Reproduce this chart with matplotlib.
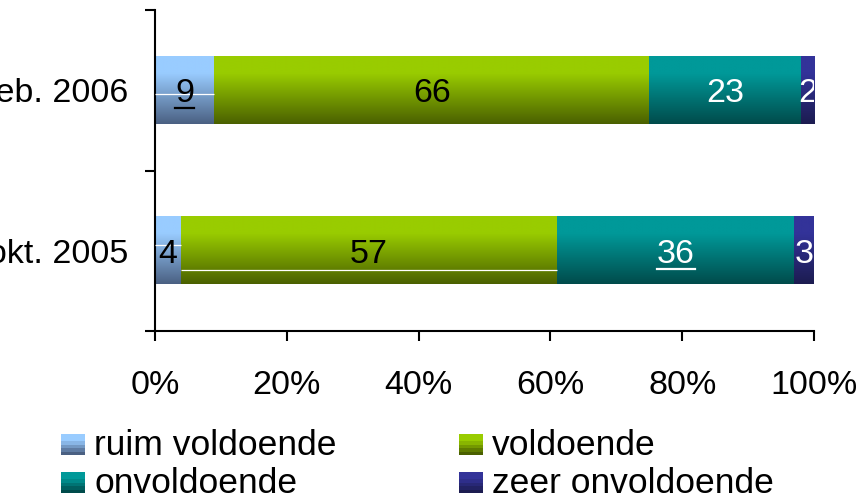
import numpy as np
import matplotlib
matplotlib.use('Agg')
import matplotlib.pyplot as plt
from matplotlib.colors import LinearSegmentedColormap
from matplotlib.lines import Line2D

# ---- data ----
categories = ['okt. 2005', 'feb. 2006']
series_names = ['ruim voldoende', 'voldoende', 'onvoldoende', 'zeer onvoldoende']
ruim = [4, 9]
voldoende = [57, 66]
onvoldoende = [36, 23]
zeer = [3, 2]
xticks = [0, 20, 40, 60, 80, 100]
xtick_labels = ['0%', '20%', '40%', '60%', '80%', '100%']

# ---- style ----
top_colors = ['#99CCFF', '#99CC00', '#009999', '#333399']
bottom_colors = ['#4A6082', '#4A6000', '#004B4B', '#1C1C50']
label_colors = ['black', 'black', 'white', 'white']
underlined = {(1, 0), (0, 2)}  # (category index, series index)
# rendering artefact lines in the original: (category, series, fraction from bottom)
artefacts = [(1, 0, 0.45), (0, 0, 0.59), (0, 1, 0.21)]

plt.rcParams['font.family'] = ['Liberation Sans', 'DejaVu Sans']

FS = 24.5
FS_LEG = 25.5

fig = plt.figure(figsize=(8.6, 4.96), dpi=100)
ax = fig.add_axes([155 / 860, 165 / 496, 659 / 860, 321 / 496])

values = [ruim, voldoende, onvoldoende, zeer]
y = np.arange(len(categories))
left = np.zeros(len(categories))
bar_h = 0.42
grad = np.linspace(0, 1, 256).reshape(-1, 1)
to_underline = []
for i, vals in enumerate(values):
    cmap = LinearSegmentedColormap.from_list(
        'g%d' % i, [(0, bottom_colors[i]), (0.75, top_colors[i]), (1, top_colors[i])])
    bars = ax.barh(y, vals, left=left, height=bar_h, color='none', edgecolor='none')
    for j, b in enumerate(bars):
        x0, y0 = b.get_x(), b.get_y()
        w, h = b.get_width(), b.get_height()
        ax.imshow(grad, extent=[x0, x0 + w, y0, y0 + h], origin='lower', cmap=cmap,
                  aspect='auto', interpolation='bilinear', zorder=2)
        t = ax.text(x0 + w / 2, y0 + h / 2, str(vals[j]), ha='center', va='center_baseline',
                    fontsize=FS, color=label_colors[i], zorder=4, clip_on=True)
        if (j, i) in underlined:
            to_underline.append((t, label_colors[i]))
        for (cj, si, f) in artefacts:
            if cj == j and si == i:
                ax.plot([x0, x0 + w], [y0 + f * h] * 2, color='white', lw=0.9,
                        zorder=3, solid_capstyle='butt')
    left += np.array(vals)

ax.set_xlim(0, 100)
ax.set_ylim(-0.5, len(categories) - 0.5)
ax.set_xticks(xticks)
ax.set_xticklabels(xtick_labels, fontsize=FS)
ax.set_yticks(y)
ax.set_yticklabels(categories, fontsize=FS)
ax.set_yticks(np.arange(-0.5, len(categories)), minor=True)
ax.tick_params(axis='y', which='major', length=0, pad=19)
ax.tick_params(axis='y', which='minor', length=7, width=1.5, direction='out')
ax.tick_params(axis='x', length=7, width=1.5, direction='out', pad=21)
for s in ['top', 'right']:
    ax.spines[s].set_visible(False)
for s in ['left', 'bottom']:
    ax.spines[s].set_linewidth(1.5)
    ax.spines[s].set_color('black')

# ---- legend (drawn manually, pixel layout) ----
lax = fig.add_axes([0, 0, 1, 1])
lax.set_xlim(0, 860)
lax.set_ylim(496, 0)
lax.axis('off')
leg_pos = [(61, 455), (459, 455), (61, 493), (459, 493)]
band = np.linspace(0, 1, 6).reshape(-1, 1)
for i, name in enumerate(series_names):
    lx, lb = leg_pos[i]
    cmap = LinearSegmentedColormap.from_list(
        'l%d' % i, [(0, bottom_colors[i]), (0.75, top_colors[i]), (1, top_colors[i])])
    lax.imshow(band, extent=[lx, lx + 24, lb, lb - 21], origin='lower', cmap=cmap,
               aspect='auto', interpolation='nearest')
    lax.text(lx + 33, lb, name, fontsize=FS_LEG, va='baseline', ha='left')
lax.set_xlim(0, 860)
lax.set_ylim(496, 0)

# underlines under selected data labels
fig.canvas.draw()
renderer = fig.canvas.get_renderer()
for t, c in to_underline:
    bb = t.get_window_extent(renderer)
    ypix = bb.y0 + 1
    (fx0, fy), (fx1, _) = fig.transFigure.inverted().transform([(bb.x0, ypix), (bb.x1, ypix)])
    fig.add_artist(Line2D([fx0, fx1], [fy, fy], color=c, lw=1.6, zorder=5))

fig.savefig('out.png', dpi=100)
